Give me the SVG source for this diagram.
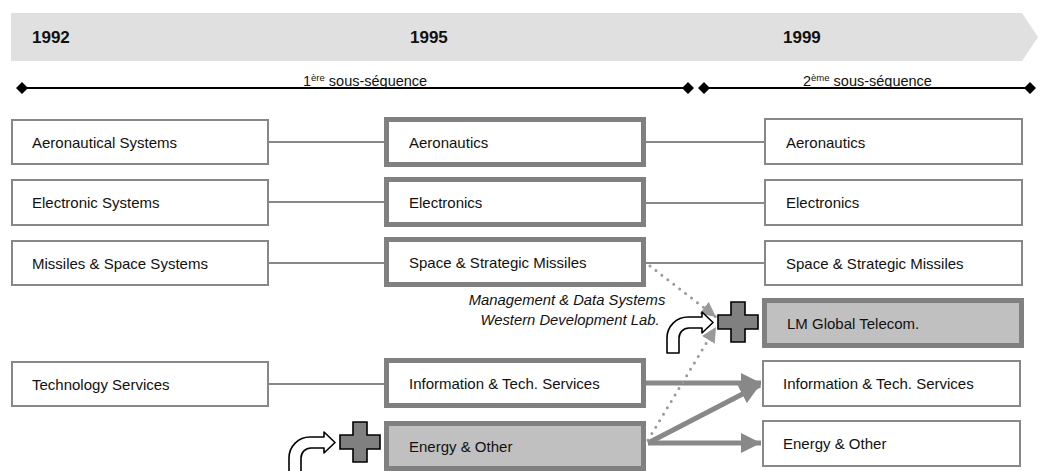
<svg xmlns="http://www.w3.org/2000/svg" width="1040" height="471" viewBox="0 0 1040 471">
<style>
.t{font-family:"Liberation Sans",Arial,sans-serif;font-size:15px;fill:#111}
.yr{font-family:"Liberation Sans",Arial,sans-serif;font-size:17px;font-weight:bold;fill:#111}
.seq{font-family:"Liberation Sans",Arial,sans-serif;font-size:14.5px;fill:#111}
.it{font-family:"Liberation Sans",Arial,sans-serif;font-size:14.8px;font-style:italic;fill:#111}
.thin{fill:#fff;stroke:#888;stroke-width:2}
.thick{fill:#fff;stroke:#808080;stroke-width:5}
.grey{fill:#c0c0c0}
.link{stroke:#888;stroke-width:2;fill:none}
.big{stroke:#888;stroke-width:5;fill:none}
.dot{stroke:#999;stroke-width:3;fill:none;stroke-dasharray:0 7.5;stroke-linecap:round}
.plus{fill:#808080;stroke:#000;stroke-width:1.6}
.bent{fill:#fff;stroke:#000;stroke-width:1.6;stroke-linejoin:round}
</style>
<defs>
<marker id="ah" viewBox="0 0 10 10" refX="10" refY="5" markerWidth="4.2" markerHeight="4" orient="auto" markerUnits="strokeWidth">
<path d="M0,0 L10,5 L0,10 Z" fill="#888"/>
</marker>
<marker id="ad" viewBox="0 0 10 10" refX="10" refY="5" markerWidth="5" markerHeight="5" orient="auto" markerUnits="strokeWidth">
<path d="M0,0 L10,5 L0,10 Z" fill="#999"/>
</marker>
<path id="plusShape" d="M-7,-20 H7 V-7 H20 V7 H7 V20 H-7 V7 H-20 V-7 H-7 Z"/>
<path id="bentShape" d="M0,41 V26 A21,21 0 0 1 21,5 H35 V0 L46,10.5 L35,21 V16 H22 A10,10 0 0 0 12,26 V41 Z"/>
</defs>

<g id="timeline">
<path d="M11,13 H1022 L1038,37 L1022,61 H11 Z" fill="#e0e0e0"/>
<text class="yr" x="32" y="43">1992</text>
<text class="yr" x="410" y="43">1995</text>
<text class="yr" x="783" y="43">1999</text>
<line x1="22" y1="88" x2="688" y2="88" stroke="#000" stroke-width="2"/>
<line x1="704" y1="88" x2="1030" y2="88" stroke="#000" stroke-width="2"/>
<path d="M16,88 L22,82 L28,88 L22,94 Z M682,88 L688,82 L694,88 L688,94 Z M698,88 L704,82 L710,88 L704,94 Z M1024,88 L1030,82 L1036,88 L1030,94 Z" fill="#000"/>
<text class="seq" x="303" y="86">1<tspan font-size="9.5" dy="-5">ère</tspan><tspan dy="5"> sous-séquence</tspan></text>
<text class="seq" x="803" y="86">2<tspan font-size="9.5" dy="-5">ème</tspan><tspan dy="5"> sous-séquence</tspan></text>
</g>

<g id="connectors">
<line class="link" x1="269" y1="142" x2="384" y2="142"/>
<line class="link" x1="269" y1="202" x2="384" y2="202"/>
<line class="link" x1="269" y1="263" x2="384" y2="263"/>
<line class="link" x1="269" y1="384" x2="384" y2="384"/>
<line class="link" x1="646" y1="142" x2="764" y2="142"/>
<line class="link" x1="646" y1="203" x2="764" y2="203"/>
<line class="link" x1="646" y1="263" x2="764" y2="263"/>
<line class="big" x1="646" y1="383" x2="761" y2="383" marker-end="url(#ah)"/>
<line class="big" x1="648" y1="443" x2="760" y2="385" marker-end="url(#ah)"/>
<line class="big" x1="648" y1="443" x2="761" y2="443" marker-end="url(#ah)"/>
<line class="dot" x1="650" y1="266" x2="716" y2="317" marker-end="url(#ad)"/>
<line class="dot" x1="648" y1="440" x2="716" y2="327" marker-end="url(#ad)"/>
</g>

<g id="n-aeronautical-systems"><rect class="thin" x="12" y="120" width="256" height="44"/><text class="t" x="32" y="148">Aeronautical Systems</text></g>
<g id="n-electronic-systems"><rect class="thin" x="12" y="180" width="256" height="45"/><text class="t" x="32" y="208">Electronic Systems</text></g>
<g id="n-missiles-space"><rect class="thin" x="12" y="241" width="256" height="44"/><text class="t" x="32" y="269">Missiles &amp; Space Systems</text></g>
<g id="n-technology-services"><rect class="thin" x="12" y="362" width="256" height="44"/><text class="t" x="32" y="390">Technology Services</text></g>

<g id="n-aeronautics-95"><rect class="thick" x="386.5" y="119.5" width="257" height="45"/><text class="t" x="409" y="148">Aeronautics</text></g>
<g id="n-electronics-95"><rect class="thick" x="386.5" y="179.5" width="257" height="45"/><text class="t" x="409" y="208">Electronics</text></g>
<g id="n-space-95"><rect class="thick" x="386.5" y="239.5" width="257" height="45"/><text class="t" x="409" y="268">Space &amp; Strategic Missiles</text></g>
<g id="n-info-95"><rect class="thick" x="386.5" y="360.5" width="257" height="45"/><text class="t" x="409" y="389">Information &amp; Tech. Services</text></g>
<g id="n-energy-95"><rect class="thick grey" x="386.5" y="423.5" width="257" height="45"/><text class="t" x="409" y="452">Energy &amp; Other</text></g>

<g id="n-aeronautics-99"><rect class="thin" x="765" y="119" width="257" height="45"/><text class="t" x="786" y="148">Aeronautics</text></g>
<g id="n-electronics-99"><rect class="thin" x="765" y="180" width="257" height="45"/><text class="t" x="786" y="208">Electronics</text></g>
<g id="n-space-99"><rect class="thin" x="765" y="241" width="257" height="44"/><text class="t" x="786" y="269">Space &amp; Strategic Missiles</text></g>
<g id="n-lm-global"><rect class="thick grey" x="764.5" y="300.5" width="257" height="45"/><text class="t" x="787" y="329">LM Global Telecom.</text></g>
<g id="n-info-99"><rect class="thin" x="763" y="361" width="257" height="45"/><text class="t" x="783" y="389">Information &amp; Tech. Services</text></g>
<g id="n-energy-99"><rect class="thin" x="763" y="421" width="257" height="45"/><text class="t" x="783" y="449">Energy &amp; Other</text></g>

<g id="n-acquisition-label">
<text class="it" x="567" y="305" text-anchor="middle">Management &amp; Data Systems</text>
<text class="it" x="570" y="325" text-anchor="middle">Western Development Lab.</text>
</g>
<g id="n-plus-top"><use href="#bentShape" class="bent" transform="translate(667,312)"/><use href="#plusShape" class="plus" transform="translate(738,322)"/></g>
<g id="n-plus-bottom"><use href="#bentShape" class="bent" transform="translate(289,432)"/><use href="#plusShape" class="plus" transform="translate(360,442)"/></g>
</svg>
